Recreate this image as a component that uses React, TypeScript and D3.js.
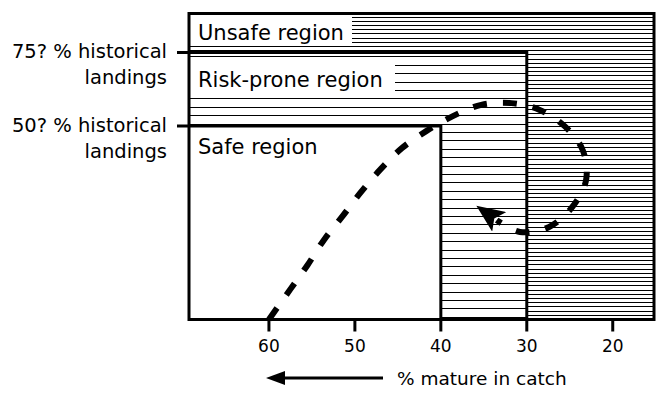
import React from "react";
import * as d3 from "d3";

// % mature in catch (axis runs from high on the left to low on the right)
const matureDomain = [69.3, 15.2];
const matureTicks = [60, 50, 40, 30, 20];

// relative landings level (schematic, only the two thresholds are labelled)
const landingsDomain = [-15.6, 88.2];
const landingsLevels = [75, 50];
const landingsLabels = ["75? % historical", "50? % historical"];

// region limits: [% mature lower bound, landings upper bound]
const riskProneLimit = [30, 75];
const safeLimit = [40, 50];
const regionNames = ["Unsafe region", "Risk-prone region", "Safe region"];

// dashed trajectory of the stock
const pathMature = [60, 57.5, 55.5, 53.6, 51.5, 49.3, 47.0, 44.5, 41.7, 38.6, 35.3, 31.8, 28.5, 25.6, 23.5, 23.1, 24.7, 27.4, 30.8, 33.5];
const pathLandings = [-15.6, -5.3, 2.9, 11.4, 19.2, 27.6, 35.4, 42.6, 48.3, 53.4, 57.2, 57.8, 55.5, 50, 41.9, 31.7, 22.6, 15.8, 14.1, 18.1];

const W = 662;
const H = 393;
const FONT = "'DejaVu Sans', Arial, sans-serif";

export default function App() {
  const x = d3.scaleLinear().domain(matureDomain).range([189, 654]);
  const y = d3.scaleLinear().domain(landingsDomain).range([319.5, 13.5]);

  const left = x(matureDomain[0]);
  const right = x(matureDomain[1]);
  const top = y(landingsDomain[1]);
  const bottom = y(landingsDomain[0]);
  const riskX = x(riskProneLimit[0]);
  const riskY = y(riskProneLimit[1]);
  const safeX = x(safeLimit[0]);
  const safeY = y(safeLimit[1]);

  // hatching: dense in unsafe, sparse in risk-prone
  const dense = d3.range(16.5, bottom, 4.2);
  const sparse = d3.range(98.3 - 8.4 * 5, bottom, 8.4).filter((v) => v > riskY + 2);

  const line = d3
    .line<number>()
    .x((_, i) => x(pathMature[i]))
    .y((_, i) => y(pathLandings[i]))
    .curve(d3.curveCatmullRom.alpha(0.5));

  return (
    <div style={{ position: "absolute", left: 0, top: 0 }}>
      <svg width={W} height={H} style={{ display: "block", background: "white" }}>
        <defs>
          <marker
            id="head"
            markerUnits="userSpaceOnUse"
            markerWidth={28}
            markerHeight={24}
            refX={3}
            refY={12}
            orient="auto"
          >
            <path d="M0,0 L28,12 L0,24 L6,12 Z" fill="black" />
          </marker>
        </defs>

        {/* unsafe: dense lines over whole frame */}
        <g stroke="black" strokeWidth={1} shapeRendering="crispEdges">
          {dense.map((v, i) => (
            <line key={i} x1={left} x2={right} y1={Math.round(v) + 0.5} y2={Math.round(v) + 0.5} />
          ))}
        </g>

        {/* risk-prone */}
        <rect x={left} y={riskY} width={riskX - left} height={bottom - riskY} fill="white" />
        <g stroke="black" strokeWidth={1} shapeRendering="crispEdges">
          {sparse.map((v, i) => (
            <line key={i} x1={left} x2={riskX} y1={Math.round(v) + 0.5} y2={Math.round(v) + 0.5} />
          ))}
        </g>

        {/* safe */}
        <rect x={left} y={safeY} width={safeX - left} height={bottom - safeY} fill="white" />

        {/* label boxes */}
        <rect x={left} y={16} width={352 - left} height={28} fill="white" />
        <rect x={left} y={59} width={395 - left} height={36} fill="white" />

        {/* borders */}
        <g stroke="black" strokeWidth={3} fill="none">
          <rect x={left} y={top} width={right - left} height={bottom - top} />
          <path d={`M${left - 12},${riskY}H${riskX}V${bottom}`} />
          <path d={`M${left - 12},${safeY}H${safeX}V${bottom}`} />
          {matureTicks.map((t) => (
            <line key={t} x1={x(t)} x2={x(t)} y1={bottom} y2={bottom + 12} />
          ))}
        </g>

        {/* trajectory */}
        <path
          d={line(pathMature) || ""}
          fill="none"
          stroke="black"
          strokeWidth={6}
          strokeDasharray="14 16"
          markerEnd="url(#head)"
        />

        {/* region labels */}
        <g fontFamily={FONT} fontSize={21} fill="black">
          <text x={198} y={top + 26.5}>{regionNames[0]}</text>
          <text x={198} y={riskY + 34.5}>{regionNames[1]}</text>
          <text x={198} y={safeY + 28}>{regionNames[2]}</text>
        </g>

        {/* left labels */}
        <g fontFamily={FONT} fontSize={19.5} fill="black" textAnchor="end">
          {landingsLevels.map((lv, i) => (
            <g key={lv}>
              <text x={167} y={y(lv) + 6}>{landingsLabels[i]}</text>
              <text x={167} y={y(lv) + 32}>landings</text>
            </g>
          ))}
        </g>

        {/* x tick labels */}
        <g fontFamily={FONT} fontSize={17} fill="black" textAnchor="middle">
          {matureTicks.map((t) => (
            <text key={t} x={x(t)} y={352}>{t}</text>
          ))}
        </g>

        {/* axis caption with arrow */}
        <line x1={282} x2={383} y1={378} y2={378} stroke="black" strokeWidth={3} />
        <path d="M266,378 L285,371 L285,385 Z" fill="black" />
        <text x={397} y={385} fontFamily={FONT} fontSize={18.5} fill="black">
          % mature in catch
        </text>
      </svg>
    </div>
  );
}
